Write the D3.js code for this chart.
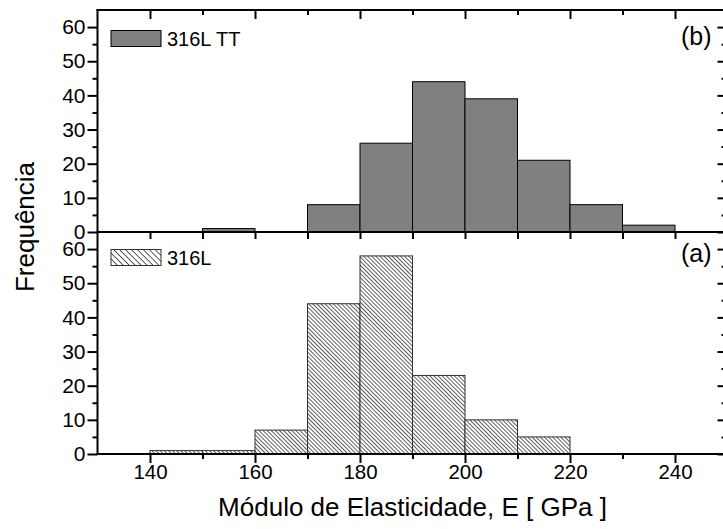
<!DOCTYPE html>
<html>
<head>
<meta charset="utf-8">
<script src="https://cdn.jsdelivr.net/npm/d3@7"></script>
<style>
  html, body { margin: 0; padding: 0; background: #fff; }
  svg { display: block; font-family: "Liberation Sans", Arial, sans-serif; }
</style>
</head>
<body>
<svg id="chart" width="723" height="529"></svg>
<script>
// Histogram bins of the elastic modulus (GPa), 10 GPa wide
const binStart = [140, 150, 160, 170, 180, 190, 200, 210, 220, 230];
const binWidth = 10;
// Counts per bin, heat-treated sample (top panel)
const counts316LTT = [0, 1, 0, 8, 26, 44, 39, 21, 8, 2];
// Counts per bin, as-received sample (bottom panel)
const counts316L = [1, 1, 7, 44, 58, 23, 10, 5, 0, 0];
// Tick values
const xMajorTicks = [140, 160, 180, 200, 220, 240];
const xAllTicks = [140, 150, 160, 170, 180, 190, 200, 210, 220, 230, 240];
const yMajorTicks = [0, 10, 20, 30, 40, 50, 60];
const yMinorTicks = [5, 15, 25, 35, 45, 55];
// Labels
const seriesNames = ["316L TT", "316L"];
const panelTags = ["(b)", "(a)"];
const xTitle = "Módulo de Elasticidade, E [ GPa ]";
const yTitle = "Frequência";

(function () {
const svg = d3.select("#chart");
const plotLeft = 97.5, plotRight = 727.5, plotTop = 10, plotMid = 232, plotBottom = 454;

const x = d3.scaleLinear().domain([130, 250]).range([plotLeft, plotRight]);
const yTop = d3.scaleLinear().domain([0, 65]).range([plotMid, plotTop]);
const yBot = d3.scaleLinear().domain([0, 65]).range([plotBottom, plotMid]);

// Hatch patterns ("\" direction)
const defs = svg.append("defs");
function hatch(id, spacing, width) {
  const p = defs.append("pattern")
    .attr("id", id)
    .attr("patternUnits", "userSpaceOnUse")
    .attr("width", spacing).attr("height", spacing)
    .attr("patternTransform", "rotate(-45)");
  p.append("rect").attr("width", spacing).attr("height", spacing).attr("fill", "#fff");
  p.append("line").attr("x1", 0).attr("y1", 0).attr("x2", 0).attr("y2", spacing)
    .attr("stroke", "#000").attr("stroke-width", width);
}
hatch("hatchBar", 2.9, 1.25);
hatch("hatchLegend", 4.2, 1.25);

// Bars
function drawBars(counts, y, fill, stroke) {
  const data = binStart.map((s, i) => ({ s, c: counts[i] })).filter(d => d.c > 0);
  svg.append("g").selectAll("rect").data(data).join("rect")
    .attr("x", d => x(d.s))
    .attr("width", d => x(d.s + binWidth) - x(d.s))
    .attr("y", d => y(d.c))
    .attr("height", d => y(0) - y(d.c))
    .attr("fill", fill)
    .attr("stroke", stroke)
    .attr("stroke-width", 1);
}
drawBars(counts316LTT, yTop, "#808080", "#000");
drawBars(counts316L, yBot, "url(#hatchBar)", "#333");

// Axes
function styleAxis(size) {
  return g => {
    g.select(".domain").remove();
    g.selectAll(".tick line").attr("stroke", "#000").attr("stroke-width", 2);
    g.selectAll(".tick text").attr("fill", "#000").attr("font-size", size)
      .attr("font-family", "Liberation Sans, Arial, sans-serif");
  };
}

[yTop, yBot].forEach(y => {
  // left: outward ticks
  svg.append("g").attr("transform", `translate(${plotLeft},0)`)
    .call(d3.axisLeft(y).tickValues(yMajorTicks).tickSize(10).tickPadding(2).tickFormat(d3.format("d")))
    .call(styleAxis(21));
  svg.append("g").attr("transform", `translate(${plotLeft},0)`)
    .call(d3.axisLeft(y).tickValues(yMinorTicks).tickSize(5).tickFormat(""))
    .call(styleAxis(21));
  // right: inward ticks
  svg.append("g").attr("transform", `translate(${plotRight},0)`)
    .call(d3.axisLeft(y).tickValues(yMajorTicks).tickSize(10).tickFormat(""))
    .call(styleAxis(21));
  svg.append("g").attr("transform", `translate(${plotRight},0)`)
    .call(d3.axisLeft(y).tickValues(yMinorTicks).tickSize(6).tickFormat(""))
    .call(styleAxis(21));
});

const xMinorTicks = xAllTicks.filter(v => !xMajorTicks.includes(v));
// bottom axis with labels
svg.append("g").attr("transform", `translate(0,${plotBottom})`)
  .call(d3.axisBottom(x).tickValues(xMajorTicks).tickSize(9).tickPadding(1).tickFormat(d3.format("d")))
  .call(styleAxis(20.5));
svg.append("g").attr("transform", `translate(0,${plotBottom})`)
  .call(d3.axisBottom(x).tickValues(xMinorTicks).tickSize(5).tickFormat(""))
  .call(styleAxis(20.5));
// panel divider: outward ticks into the lower panel
svg.append("g").attr("transform", `translate(0,${plotMid})`)
  .call(d3.axisBottom(x).tickValues(xAllTicks).tickSize(7).tickFormat(""))
  .call(styleAxis(20));
// top axis: inward ticks
svg.append("g").attr("transform", `translate(0,${plotTop})`)
  .call(d3.axisBottom(x).tickValues(xMajorTicks).tickSize(9).tickFormat(""))
  .call(styleAxis(20));
svg.append("g").attr("transform", `translate(0,${plotTop})`)
  .call(d3.axisBottom(x).tickValues(xMinorTicks).tickSize(5).tickFormat(""))
  .call(styleAxis(20));

// Frame lines
const frame = svg.append("g").attr("stroke", "#000").attr("stroke-width", 2).attr("fill", "none");
[plotTop, plotMid, plotBottom].forEach(yy => frame.append("line")
  .attr("x1", plotLeft - 1).attr("x2", plotRight).attr("y1", yy).attr("y2", yy));
frame.append("line").attr("x1", plotLeft).attr("x2", plotLeft).attr("y1", plotTop - 1).attr("y2", plotBottom + 1);
frame.append("line").attr("x1", plotRight).attr("x2", plotRight).attr("y1", plotTop - 1).attr("y2", plotBottom + 1);

// Legends
const legendFills = ["#808080", "url(#hatchLegend)"];
const legendStrokes = ["#000", "#333"];
const legendBoxTop = [30.5, 249.5];
legendBoxTop.forEach((ly, i) => {
  svg.append("rect").attr("x", 111).attr("y", ly).attr("width", 50).attr("height", 16)
    .attr("fill", legendFills[i]).attr("stroke", legendStrokes[i]).attr("stroke-width", 1);
  svg.append("text").attr("x", 167).attr("y", ly + 15.5).attr("font-size", 20).text(seriesNames[i]);
});

// Panel tags
svg.append("text").attr("x", 681).attr("y", 45).attr("font-size", 25).text(panelTags[0]);
svg.append("text").attr("x", 681).attr("y", 262).attr("font-size", 25).text(panelTags[1]);

// Axis titles
svg.append("text").attr("x", (plotLeft + plotRight) / 2).attr("y", 516)
  .attr("text-anchor", "middle").attr("font-size", 26).text(xTitle);
svg.append("text").attr("transform", "translate(34,227) rotate(-90)")
  .attr("text-anchor", "middle").attr("font-size", 26).text(yTitle);
})();
</script>
</body>
</html>
